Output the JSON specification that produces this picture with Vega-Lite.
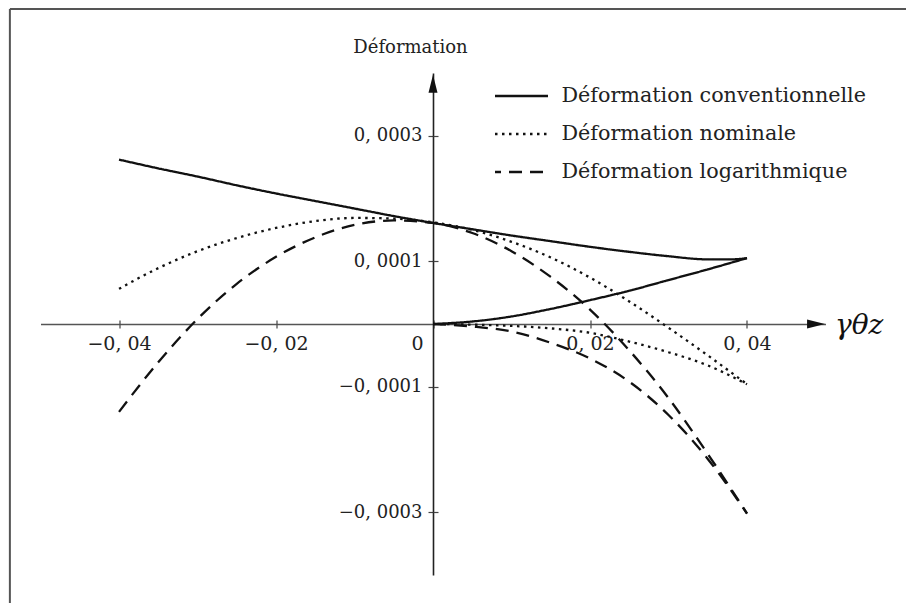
{
  "$schema": "https://vega.github.io/schema/vega-lite/v6.json",
  "width": 785,
  "height": 502,
  "autosize": "none",
  "padding": {"left": 40.5, "top": 73, "right": 80.5, "bottom": 28},
  "background": "white",
  "config": {"view": {"stroke": null}, "font": "DejaVu Serif"},
  "datasets": {
    "courbes": [
      {"s": "Déformation conventionnelle", "b": "haut", "x": -0.04, "y": 0.000262},
      {"s": "Déformation conventionnelle", "b": "haut", "x": -0.035, "y": 0.000248},
      {"s": "Déformation conventionnelle", "b": "haut", "x": -0.03, "y": 0.000235},
      {"s": "Déformation conventionnelle", "b": "haut", "x": -0.025, "y": 0.000221},
      {"s": "Déformation conventionnelle", "b": "haut", "x": -0.02, "y": 0.000208},
      {"s": "Déformation conventionnelle", "b": "haut", "x": -0.015, "y": 0.000196},
      {"s": "Déformation conventionnelle", "b": "haut", "x": -0.01, "y": 0.000184},
      {"s": "Déformation conventionnelle", "b": "haut", "x": -0.005, "y": 0.000172},
      {"s": "Déformation conventionnelle", "b": "haut", "x": 0, "y": 0.000161},
      {"s": "Déformation conventionnelle", "b": "haut", "x": 0.005, "y": 0.000151},
      {"s": "Déformation conventionnelle", "b": "haut", "x": 0.01, "y": 0.000141},
      {"s": "Déformation conventionnelle", "b": "haut", "x": 0.015, "y": 0.000132},
      {"s": "Déformation conventionnelle", "b": "haut", "x": 0.02, "y": 0.000123},
      {"s": "Déformation conventionnelle", "b": "haut", "x": 0.025, "y": 0.000115},
      {"s": "Déformation conventionnelle", "b": "haut", "x": 0.03, "y": 0.000108},
      {"s": "Déformation conventionnelle", "b": "haut", "x": 0.035, "y": 0.000103},
      {"s": "Déformation conventionnelle", "b": "haut", "x": 0.038, "y": 0.000103},
      {"s": "Déformation conventionnelle", "b": "haut", "x": 0.04, "y": 0.000105},
      {"s": "Déformation conventionnelle", "b": "bas", "x": 0, "y": 0},
      {"s": "Déformation conventionnelle", "b": "bas", "x": 0.005, "y": 0.000004},
      {"s": "Déformation conventionnelle", "b": "bas", "x": 0.01, "y": 0.000012},
      {"s": "Déformation conventionnelle", "b": "bas", "x": 0.015, "y": 0.000024},
      {"s": "Déformation conventionnelle", "b": "bas", "x": 0.02, "y": 0.000038},
      {"s": "Déformation conventionnelle", "b": "bas", "x": 0.025, "y": 0.000053},
      {"s": "Déformation conventionnelle", "b": "bas", "x": 0.03, "y": 0.00007},
      {"s": "Déformation conventionnelle", "b": "bas", "x": 0.035, "y": 0.000087},
      {"s": "Déformation conventionnelle", "b": "bas", "x": 0.04, "y": 0.000105},
      {"s": "Déformation nominale", "b": "haut", "x": -0.04, "y": 0.000056},
      {"s": "Déformation nominale", "b": "haut", "x": -0.035, "y": 0.000089},
      {"s": "Déformation nominale", "b": "haut", "x": -0.03, "y": 0.000116},
      {"s": "Déformation nominale", "b": "haut", "x": -0.025, "y": 0.000137},
      {"s": "Déformation nominale", "b": "haut", "x": -0.02, "y": 0.000153},
      {"s": "Déformation nominale", "b": "haut", "x": -0.015, "y": 0.000164},
      {"s": "Déformation nominale", "b": "haut", "x": -0.01, "y": 0.000169},
      {"s": "Déformation nominale", "b": "haut", "x": -0.005, "y": 0.000168},
      {"s": "Déformation nominale", "b": "haut", "x": 0, "y": 0.000162},
      {"s": "Déformation nominale", "b": "haut", "x": 0.005, "y": 0.00015},
      {"s": "Déformation nominale", "b": "haut", "x": 0.01, "y": 0.000131},
      {"s": "Déformation nominale", "b": "haut", "x": 0.015, "y": 0.000106},
      {"s": "Déformation nominale", "b": "haut", "x": 0.02, "y": 0.000074},
      {"s": "Déformation nominale", "b": "haut", "x": 0.025, "y": 0.000036},
      {"s": "Déformation nominale", "b": "haut", "x": 0.03, "y": -0.000006},
      {"s": "Déformation nominale", "b": "haut", "x": 0.035, "y": -0.00005},
      {"s": "Déformation nominale", "b": "haut", "x": 0.04, "y": -0.000096},
      {"s": "Déformation nominale", "b": "bas", "x": 0, "y": 0},
      {"s": "Déformation nominale", "b": "bas", "x": 0.005, "y": -0.000001},
      {"s": "Déformation nominale", "b": "bas", "x": 0.01, "y": -0.000003},
      {"s": "Déformation nominale", "b": "bas", "x": 0.015, "y": -0.000007},
      {"s": "Déformation nominale", "b": "bas", "x": 0.02, "y": -0.000014},
      {"s": "Déformation nominale", "b": "bas", "x": 0.025, "y": -0.000028},
      {"s": "Déformation nominale", "b": "bas", "x": 0.03, "y": -0.000045},
      {"s": "Déformation nominale", "b": "bas", "x": 0.035, "y": -0.000066},
      {"s": "Déformation nominale", "b": "bas", "x": 0.04, "y": -0.000096},
      {"s": "Déformation logarithmique", "b": "haut", "x": -0.04, "y": -0.00014},
      {"s": "Déformation logarithmique", "b": "haut", "x": -0.035, "y": -0.000061},
      {"s": "Déformation logarithmique", "b": "haut", "x": -0.03, "y": 0.000008},
      {"s": "Déformation logarithmique", "b": "haut", "x": -0.025, "y": 0.000064},
      {"s": "Déformation logarithmique", "b": "haut", "x": -0.02, "y": 0.000107},
      {"s": "Déformation logarithmique", "b": "haut", "x": -0.015, "y": 0.000138},
      {"s": "Déformation logarithmique", "b": "haut", "x": -0.01, "y": 0.000158},
      {"s": "Déformation logarithmique", "b": "haut", "x": -0.005, "y": 0.000165},
      {"s": "Déformation logarithmique", "b": "haut", "x": 0, "y": 0.000161},
      {"s": "Déformation logarithmique", "b": "haut", "x": 0.005, "y": 0.000145},
      {"s": "Déformation logarithmique", "b": "haut", "x": 0.01, "y": 0.000116},
      {"s": "Déformation logarithmique", "b": "haut", "x": 0.015, "y": 0.000075},
      {"s": "Déformation logarithmique", "b": "haut", "x": 0.02, "y": 0.000023},
      {"s": "Déformation logarithmique", "b": "haut", "x": 0.025, "y": -0.000042},
      {"s": "Déformation logarithmique", "b": "haut", "x": 0.03, "y": -0.000118},
      {"s": "Déformation logarithmique", "b": "haut", "x": 0.035, "y": -0.000207},
      {"s": "Déformation logarithmique", "b": "haut", "x": 0.04, "y": -0.000302},
      {"s": "Déformation logarithmique", "b": "bas", "x": 0, "y": 0},
      {"s": "Déformation logarithmique", "b": "bas", "x": 0.005, "y": -0.000004},
      {"s": "Déformation logarithmique", "b": "bas", "x": 0.01, "y": -0.000012},
      {"s": "Déformation logarithmique", "b": "bas", "x": 0.015, "y": -0.00003},
      {"s": "Déformation logarithmique", "b": "bas", "x": 0.02, "y": -0.000055},
      {"s": "Déformation logarithmique", "b": "bas", "x": 0.025, "y": -0.000092},
      {"s": "Déformation logarithmique", "b": "bas", "x": 0.03, "y": -0.000145},
      {"s": "Déformation logarithmique", "b": "bas", "x": 0.035, "y": -0.000215},
      {"s": "Déformation logarithmique", "b": "bas", "x": 0.04, "y": -0.000302}
    ]
  },
  "resolve": {"axis": {"x": "independent", "y": "independent"}},
  "layer": [
    {
      "data": {"name": "courbes"},
      "mark": {"type": "line", "interpolate": "monotone", "color": "#111", "strokeWidth": 2.3, "strokeCap": "butt"},
      "encoding": {
        "x": {
          "field": "x", "type": "quantitative",
          "scale": {"domain": [-0.05, 0.05], "nice": false, "zero": false},
          "axis": {
            "orient": "bottom", "offset": -251,
            "values": [-0.04, -0.02, 0, 0.02, 0.04],
            "grid": false,
            "domainColor": "#555", "domainWidth": 1.6,
            "tickColor": "#444", "tickSize": 4, "tickWidth": 1.2,
            "labelFont": "DejaVu Serif", "labelFontSize": 19, "labelColor": "#222",
            "labelPadding": 6, "labelFlush": false, "labelOverlap": false,
            "labelExpr": "datum.value == 0 ? '0' : replace(replace(format(datum.value, '.2f'), '.', ', '), '-', '\u2212')",
            "labelAlign": {"condition": {"test": "datum.value == 0", "value": "right"}, "value": "center"},
            "labelOffset": {"condition": {"test": "datum.value == 0", "value": -10}, "value": 0},
            "title": "γθz",
            "titleFont": "DejaVu Serif", "titleFontStyle": "italic", "titleFontWeight": "normal",
            "titleFontSize": 28, "titleColor": "#111", "titleAngle": 0,
            "titleAlign": "left", "titleBaseline": "middle", "titleX": 794, "titleY": 1
          }
        },
        "y": {
          "field": "y", "type": "quantitative",
          "scale": {"domain": [-0.0004, 0.0004], "nice": false, "zero": false},
          "axis": {
            "orient": "left", "offset": -392.5,
            "values": [-0.0003, -0.0001, 0.0001, 0.0003],
            "grid": false,
            "domainColor": "#222", "domainWidth": 1.6,
            "tickColor": "#444", "tickSize": 5, "tickWidth": 1.2,
            "labelFont": "DejaVu Serif", "labelFontSize": 18, "labelColor": "#222",
            "labelPadding": 6,
            "labelExpr": "replace(replace(format(datum.value, '.4f'), '.', ', '), '-', '\u2212')",
            "title": "Déformation",
            "titleFont": "DejaVu Serif", "titleFontWeight": "normal", "titleFontSize": 18,
            "titleColor": "#222", "titleAngle": 0, "titleAlign": "center", "titleBaseline": "middle",
            "titleX": -23, "titleY": -26
          }
        },
        "detail": {"field": "b"},
        "strokeDash": {
          "field": "s", "type": "nominal",
          "scale": {
            "domain": ["Déformation conventionnelle", "Déformation nominale", "Déformation logarithmique"],
            "range": [[1, 0], [2.5, 4.5], [13, 8]]
          },
          "legend": {
            "orient": "none", "legendX": 453, "legendY": -5,
            "title": null, "padding": 0,
            "symbolType": "stroke", "symbolSize": 2809, "symbolStrokeWidth": 2.3,
            "symbolStrokeColor": "#111", "symbolDashOffset": 7,
            "labelFont": "DejaVu Serif", "labelFontSize": 20.7, "labelColor": "#222",
            "labelOffset": 12, "labelLimit": 600, "rowPadding": -4
          }
        }
      }
    },
    {
      "data": {"values": [{}]},
      "mark": {"type": "point", "shape": "M-1,-0.5L1,0L-1,0.5Z", "filled": true, "color": "#111", "opacity": 1, "size": 324},
      "encoding": {
        "x": {
          "datum": 0.0488, "type": "quantitative",
          "scale": {"domain": [-0.05, 0.05], "nice": false, "zero": false},
          "axis": {
            "orient": "top", "offset": -251, "values": [-0.04, -0.02, 0, 0.02, 0.04],
            "domain": false, "labels": false, "grid": false, "title": null,
            "tickColor": "#444", "tickSize": 4, "tickWidth": 1.2
          }
        },
        "y": {
          "datum": 0, "type": "quantitative",
          "scale": {"domain": [-0.0004, 0.0004], "nice": false, "zero": false},
          "axis": {
            "orient": "right", "offset": -392.5, "values": [-0.0003, -0.0001, 0.0001, 0.0003],
            "domain": false, "labels": false, "grid": false, "title": null,
            "tickColor": "#444", "tickSize": 5, "tickWidth": 1.2
          }
        }
      }
    },
    {
      "data": {"values": [{}]},
      "mark": {"type": "point", "shape": "M-0.5,1L0,-1L0.5,1Z", "filled": true, "color": "#111", "opacity": 1, "size": 324},
      "encoding": {
        "x": {"datum": 0, "type": "quantitative", "scale": {"domain": [-0.05, 0.05], "nice": false, "zero": false}, "axis": null},
        "y": {"datum": 0.000383, "type": "quantitative", "scale": {"domain": [-0.0004, 0.0004], "nice": false, "zero": false}, "axis": null}
      }
    },
    {
      "data": {"values": [{}]},
      "mark": {"type": "rule", "color": "#555", "strokeWidth": 2},
      "encoding": {
        "x": {"datum": -0.0539, "type": "quantitative", "scale": {"domain": [-0.05, 0.05], "nice": false, "zero": false}, "axis": null},
        "x2": {"datum": 0.062},
        "y": {"datum": 0.000502, "type": "quantitative", "scale": {"domain": [-0.0004, 0.0004], "nice": false, "zero": false}, "axis": null}
      }
    },
    {
      "data": {"values": [{}]},
      "mark": {"type": "rule", "color": "#555", "strokeWidth": 2},
      "encoding": {
        "x": {"datum": -0.0539, "type": "quantitative", "scale": {"domain": [-0.05, 0.05], "nice": false, "zero": false}, "axis": null},
        "y": {"datum": 0.000502, "type": "quantitative", "scale": {"domain": [-0.0004, 0.0004], "nice": false, "zero": false}, "axis": null},
        "y2": {"datum": -0.00047}
      }
    }
  ]
}
